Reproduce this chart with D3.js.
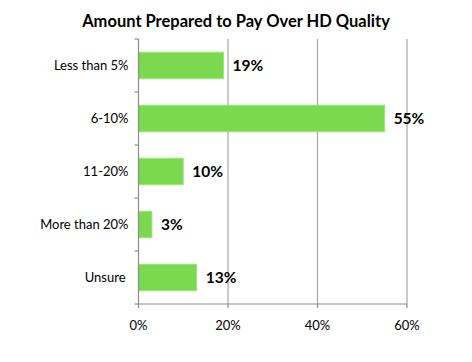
<!DOCTYPE html>
<html>
<head>
<meta charset="utf-8">
<script src="https://cdn.jsdelivr.net/npm/d3@7"></script>
<style>
  body { margin: 0; background: #fff; }
  text { font-family: Lato, "Open Sans", sans-serif; fill: #000; }
</style>
</head>
<body>
<div id="chart"></div>
<script>
const categories = ["Less than 5%", "6-10%", "11-20%", "More than 20%", "Unsure"];
const values = [19, 55, 10, 3, 13];
const xTicks = [0, 20, 40, 60];

(function () {
  const width = 472, height = 362;
  const margin = { top: 39, right: 65, bottom: 58, left: 138.5 };
  const w = width - margin.left - margin.right;
  const h = height - margin.top - margin.bottom;

  const svg = d3.select("#chart")
    .append("svg")
    .attr("width", width)
    .attr("height", height);

  svg.append("text")
    .attr("x", 236)
    .attr("y", 27)
    .attr("text-anchor", "middle")
    .style("font-size", "16.5px")
    .style("font-weight", "bold")
    .text("Amount Prepared to Pay Over HD Quality");

  const g = svg.append("g")
    .attr("transform", `translate(${margin.left},${margin.top})`);

  const x = d3.scaleLinear().domain([0, 60]).range([0, w]);
  const y = d3.scaleBand().domain(categories).range([0, h]).paddingInner(0.5).paddingOuter(0.25);
  const yEdge = d3.scaleLinear().domain([0, categories.length]).range([0, h]);

  // gridlines
  g.selectAll(".grid")
    .data(xTicks.slice(1))
    .enter()
    .append("line")
    .attr("x1", d => x(d)).attr("x2", d => x(d))
    .attr("y1", 0).attr("y2", h)
    .attr("stroke", "#a6a6a6")
    .attr("stroke-width", 1.2);

  // bars
  const data = categories.map((c, i) => ({ cat: c, value: values[i] }));
  g.selectAll(".bar")
    .data(data)
    .enter()
    .append("rect")
    .attr("x", 0)
    .attr("y", d => y(d.cat))
    .attr("width", d => x(d.value))
    .attr("height", y.bandwidth())
    .attr("fill", "#7ad94f")
    .attr("stroke", "#9be67a")
    .attr("stroke-width", 1);

  g.selectAll(".val")
    .data(data)
    .enter()
    .append("text")
    .attr("x", d => x(d.value) + 9)
    .attr("y", d => y(d.cat) + y.bandwidth() / 2)
    .attr("dy", "0.36em")
    .style("font-size", "15.5px")
    .style("font-weight", "bold")
    .text(d => d.value + "%");

  // y axis
  g.append("line")
    .attr("x1", 0).attr("x2", 0).attr("y1", 0).attr("y2", h)
    .attr("stroke", "#8c8c8c").attr("stroke-width", 1.2);
  g.selectAll(".ytick")
    .data(d3.range(categories.length + 1))
    .enter()
    .append("line")
    .attr("x1", -4).attr("x2", 0)
    .attr("y1", d => yEdge(d)).attr("y2", d => yEdge(d))
    .attr("stroke", "#8c8c8c").attr("stroke-width", 1.2);
  g.selectAll(".ylab")
    .data(categories)
    .enter()
    .append("text")
    .attr("x", d => d === "Unsure" ? -13 : -10)
    .attr("y", d => y(d) + y.bandwidth() / 2)
    .attr("dy", "0.36em")
    .attr("text-anchor", "end")
    .style("font-size", "13px")
    .text(d => d);

  // x axis
  g.append("line")
    .attr("x1", 0).attr("x2", w).attr("y1", h).attr("y2", h)
    .attr("stroke", "#8c8c8c").attr("stroke-width", 1.2);
  g.selectAll(".xtick")
    .data(xTicks)
    .enter()
    .append("line")
    .attr("x1", d => x(d)).attr("x2", d => x(d))
    .attr("y1", h).attr("y2", h + 4)
    .attr("stroke", "#8c8c8c").attr("stroke-width", 1.2);
  g.selectAll(".xlab")
    .data(xTicks)
    .enter()
    .append("text")
    .attr("x", d => x(d))
    .attr("y", h + 21)
    .attr("dy", "0.36em")
    .attr("text-anchor", "middle")
    .style("font-size", "13px")
    .text(d => d + "%");
})();
</script>
</body>
</html>
